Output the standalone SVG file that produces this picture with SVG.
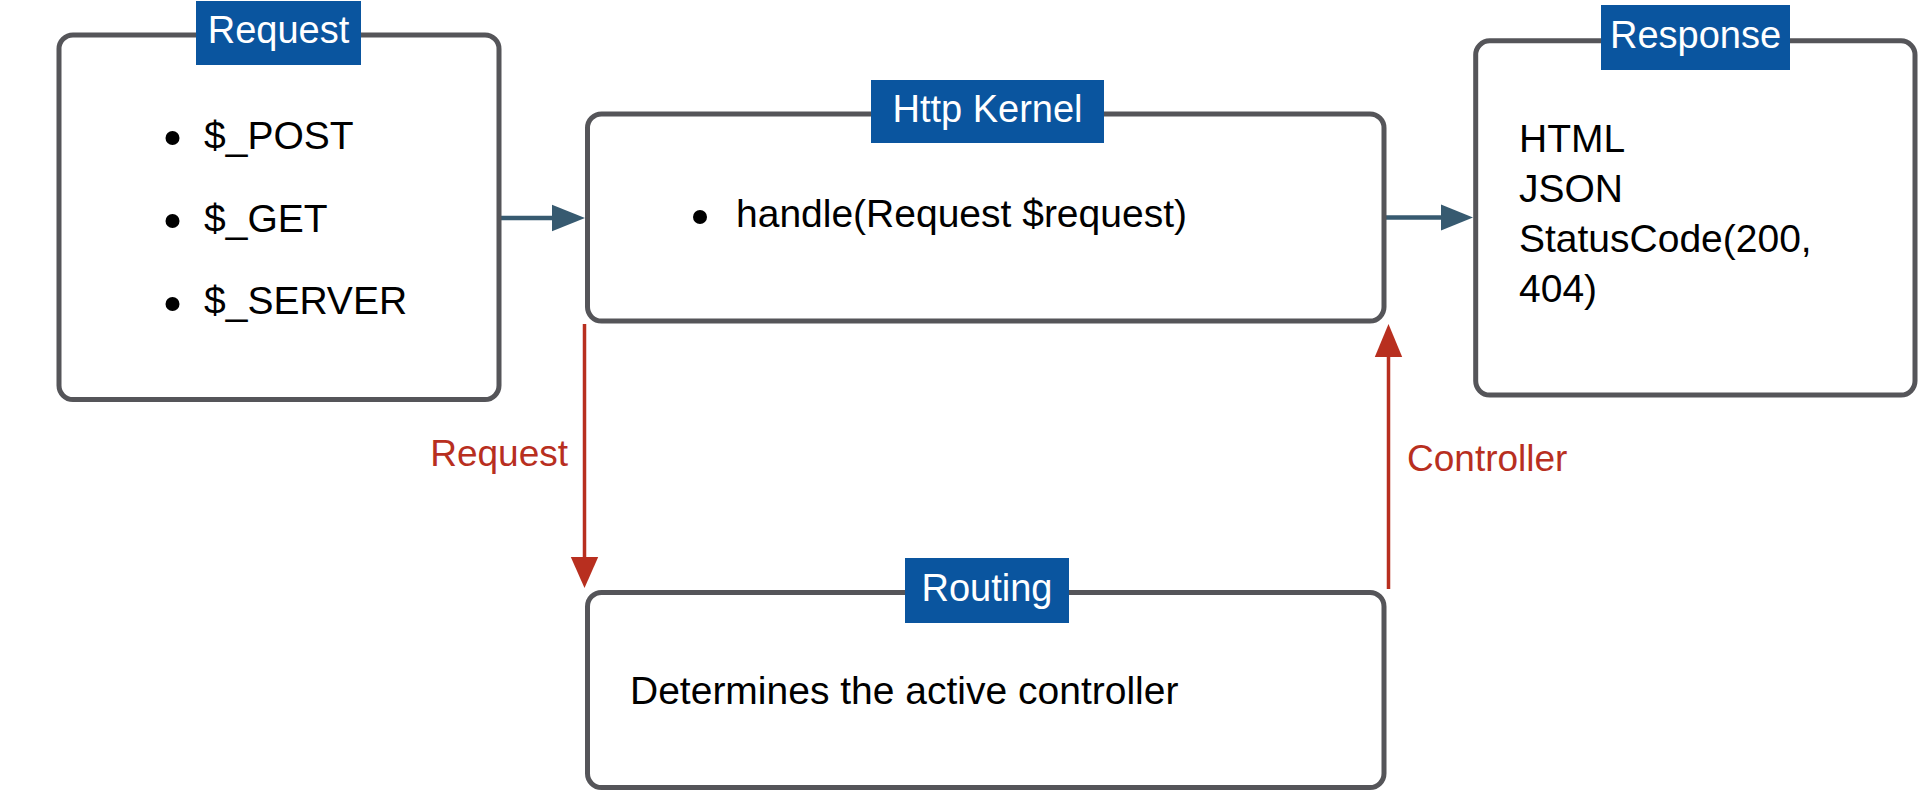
<svg xmlns="http://www.w3.org/2000/svg" width="1919" height="790" viewBox="0 0 1919 790">
<style>
.box{fill:#ffffff;stroke:#555559;stroke-width:5}
.lbl{fill:#0a559f}
.ttl{font-family:"Liberation Sans",Arial,sans-serif;font-size:38px;fill:#ffffff;text-anchor:middle}
.txt{font-family:"Liberation Sans",Arial,sans-serif;font-size:39px;fill:#000000}
.red{font-family:"Liberation Sans",Arial,sans-serif;font-size:37px;fill:#b82f1f}
.bul{fill:#000000}
.flow{stroke:#375a70;stroke-width:4.3;fill:none}
.flowhead{fill:#375a70}
.rline{stroke:#b82f1f;stroke-width:3.5;fill:none}
.rhead{fill:#b82f1f}
</style>
<rect width="1919" height="790" fill="#ffffff"/>
<g id="connectors">
  <line class="flow" x1="499" y1="218" x2="553" y2="218"/>
  <polygon class="flowhead" points="552,204.7 585,218 552,231.3"/>
  <line class="flow" x1="1384" y1="217.5" x2="1442" y2="217.5"/>
  <polygon class="flowhead" points="1441,204.5 1473,217.5 1441,230.5"/>
  <line class="rline" x1="584.5" y1="324" x2="584.5" y2="558"/>
  <polygon class="rhead" points="570.8,557 598.2,557 584.5,588"/>
  <text class="red" x="568" y="466" text-anchor="end">Request</text>
  <line class="rline" x1="1388.5" y1="589" x2="1388.5" y2="356"/>
  <polygon class="rhead" points="1374.8,357 1402.2,357 1388.5,324"/>
  <text class="red" x="1407" y="471">Controller</text>
</g>
<g id="request">
  <rect class="box" x="59" y="35" width="440" height="364.5" rx="14"/>
  <rect class="lbl" x="196" y="1" width="165" height="64"/>
  <text class="ttl" x="278.5" y="43">Request</text>
  <circle class="bul" cx="172.5" cy="138" r="7"/>
  <text class="txt" x="204" y="149">$_POST</text>
  <circle class="bul" cx="172.5" cy="221" r="7"/>
  <text class="txt" x="204" y="232">$_GET</text>
  <circle class="bul" cx="172.5" cy="304" r="7"/>
  <text class="txt" x="204" y="314">$_SERVER</text>
</g>
<g id="httpkernel">
  <rect class="box" x="587.5" y="114" width="796.5" height="207" rx="14"/>
  <rect class="lbl" x="871" y="80" width="233" height="63"/>
  <text class="ttl" x="987.5" y="122">Http Kernel</text>
  <circle class="bul" cx="700" cy="217" r="7"/>
  <text class="txt" x="736" y="227">handle(Request $request)</text>
</g>
<g id="response">
  <rect class="box" x="1475.7" y="40.8" width="439.3" height="354.2" rx="14"/>
  <rect class="lbl" x="1601" y="5" width="189" height="65"/>
  <text class="ttl" x="1695.5" y="48">Response</text>
  <text class="txt" x="1519" y="152">HTML</text>
  <text class="txt" x="1519" y="202">JSON</text>
  <text class="txt" x="1519" y="252">StatusCode(200,</text>
  <text class="txt" x="1519" y="302">404)</text>
</g>
<g id="routing">
  <rect class="box" x="587.5" y="592.5" width="796.5" height="195" rx="14"/>
  <rect class="lbl" x="905" y="558" width="164" height="65"/>
  <text class="ttl" x="987" y="601">Routing</text>
  <text class="txt" x="630" y="704">Determines the active controller</text>
</g>
</svg>
